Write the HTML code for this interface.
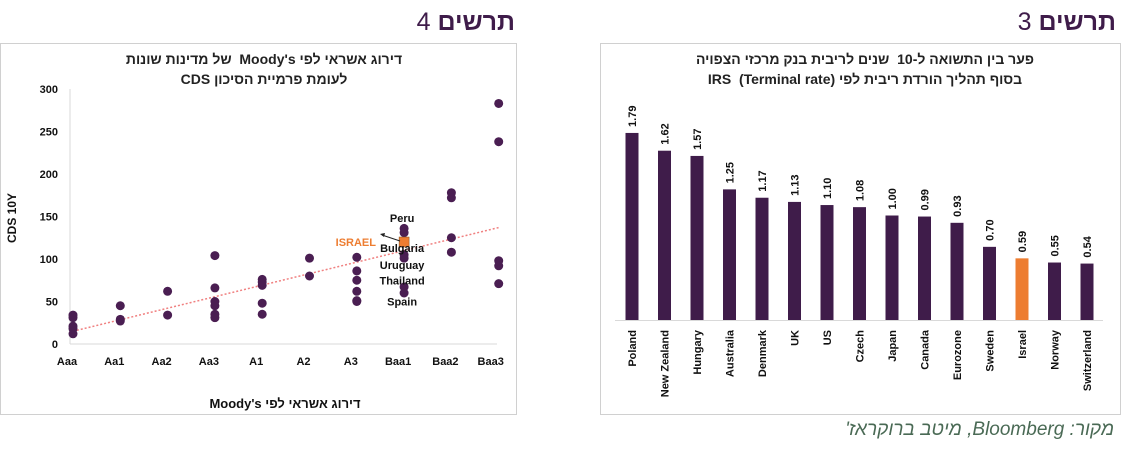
<!DOCTYPE html>
<html><head><meta charset="utf-8"><style>
body{margin:0;background:#fff;width:1132px;height:462px;overflow:hidden;font-family:"Liberation Sans","Noto Sans CJK SC",sans-serif;position:relative}
svg text{font-family:"Liberation Sans","Noto Sans CJK SC",sans-serif}
.t{position:absolute;direction:rtl;white-space:nowrap;font-family:"Liberation Sans","Noto Sans CJK SC",sans-serif}
</style></head><body>
<svg id="s" width="1132" height="462" xmlns="http://www.w3.org/2000/svg" style="position:absolute;left:0;top:0">
<rect x="0.5" y="43.5" width="516" height="371" fill="#fff" stroke="#d0d0d0"/>
<rect x="600.5" y="43.5" width="520" height="371" fill="#fff" stroke="#d0d0d0"/>
<text x="16" y="218" transform="rotate(-90 16 218)" text-anchor="middle" font-size="12" font-weight="bold" fill="#111">CDS 10Y</text>
<g id="sc"></g><g id="bc"></g>
</svg>
<div class="t" style="right:617px;top:8px;font-size:25px;font-weight:bold;color:#3f1c4a">תרשים <span style="font-weight:normal">4</span></div>
<div class="t" style="right:16px;top:8px;font-size:25px;font-weight:bold;color:#3f1c4a">תרשים <span style="font-weight:normal">3</span></div>
<div class="t" style="left:0;width:528px;top:49px;text-align:center;font-size:14px;font-weight:bold;color:#222;line-height:20px">דירוג אשראי לפי Moody's&nbsp;&nbsp;של מדינות שונות<br>לעומת פרמיית הסיכון CDS</div>
<div class="t" style="left:600px;width:530px;top:49px;text-align:center;font-size:14px;font-weight:bold;color:#222;line-height:20px">פער בין התשואה ל-10&nbsp;&nbsp;שנים לריבית בנק מרכזי הצפויה<br>בסוף תהליך הורדת ריבית לפי IRS&nbsp;&nbsp;(Terminal rate)</div>
<div class="t" style="left:0;width:570px;top:396px;text-align:center;font-size:13px;font-weight:bold;color:#111">דירוג אשראי לפי Moody's</div>
<div class="t" style="right:18px;top:419px;font-size:19px;font-style:italic;color:#4a6a55">מקור: Bloomberg, מיטב ברוקראז'</div>
<script>
var NS="http://www.w3.org/2000/svg";
function mk(p,t,a){var e=document.createElementNS(NS,t);for(var k in a)e.setAttribute(k,a[k]);p.appendChild(e);return e;}
var ratings=["Aaa","Aa1","Aa2","Aa3","A1","A2","A3","Baa1","Baa2","Baa3"];
var cdsValues=[[34,31,21,18,12],[45,29,27],[62,34],[104,66,50,45,35,31],[76,73,69,48,35],[101,80],[102,86,75,62,51,50],[136,131,105,101,67,60],[178,172,125,108],[283,238,98,92,71]];
var israelRating=7, israelCds=120;
var yTicks=[0,50,100,150,200,250,300];
var trendStart=15, trendEnd=137;
var countryLabels=["Peru","Bulgaria","Uruguay","Thailand","Spain"];
var countryLabelValues=[148,113,93,75,50];
function sx(i){return 73+i*47.3;}
function sy(v){return 344-v*0.85;}
var sc=document.getElementById('sc');
mk(sc,'line',{x1:70,y1:89,x2:70,y2:344,stroke:'#d9d9d9'});
mk(sc,'line',{x1:70,y1:344,x2:497,y2:344,stroke:'#d9d9d9'});
yTicks.forEach(function(t){var e=mk(sc,'text',{x:58,y:sy(t)+4,'text-anchor':'end','font-size':11,'font-weight':'bold',fill:'#111'});e.textContent=t;

});
ratings.forEach(function(r,i){var e=mk(sc,'text',{x:sx(i)-6+(i==9?-2:0),y:365,'text-anchor':'middle','font-size':11,'font-weight':'bold',fill:'#111'});e.textContent=r;

});
var tl=mk(sc,'line',{x1:sx(0),y1:sy(trendStart),x2:sx(9),y2:sy(trendEnd),stroke:'#f08080','stroke-width':1.5,'stroke-dasharray':'2,2'});


cdsValues.forEach(function(arr,i){arr.forEach(function(v){var c=mk(sc,'circle',{cx:sx(i),cy:sy(v),r:4.5,fill:'#4a1e52'});

});});
var sq=mk(sc,'rect',{x:sx(israelRating)-5,y:sy(israelCds)-5,width:10,height:10,fill:'#ed7d31',stroke:'#7a4a20','stroke-width':0.5});


var il=mk(sc,'text',{x:376,y:sy(israelCds)+4,'text-anchor':'end','font-size':11,'font-weight':'bold',fill:'#ed7d31'});il.textContent='ISRAEL';


mk(sc,'line',{x1:400,y1:sy(israelCds)-1,x2:382,y2:sy(israelCds)-7,stroke:'#222','stroke-width':1});
mk(sc,'path',{d:'M380,'+(sy(israelCds)-8)+' l5,-1 l-1,4 z',fill:'#222'});
countryLabels.forEach(function(n,i){var e=mk(sc,'text',{x:sx(israelRating)-2,y:sy(countryLabelValues[i])+4,'text-anchor':'middle','font-size':11,'font-weight':'bold',fill:'#111'});e.textContent=n;

});
var countries=["Poland","New Zealand","Hungary","Australia","Denmark","UK","US","Czech","Japan","Canada","Eurozone","Sweden","Israel","Norway","Switzerland"];
var gaps=[1.79,1.62,1.57,1.25,1.17,1.13,1.10,1.08,1.00,0.99,0.93,0.70,0.59,0.55,0.54];
var highlight="Israel";
function bx(i){return 632+i*32.5;}
function by(v){return 320-v*104.5;}
var bc=document.getElementById('bc');
mk(bc,'line',{x1:615,y1:320.5,x2:1103,y2:320.5,stroke:'#d9d9d9'});
countries.forEach(function(c,i){
 var v=gaps[i];
 var r=mk(bc,'rect',{x:bx(i)-6.5,y:by(v),width:13,height:320-by(v),fill:c==highlight?'#ed7d31':'#3f1c4a'});
 
 
 var t=mk(bc,'text',{x:0,y:0,transform:'translate('+(bx(i)+4)+','+(by(v)-6)+') rotate(-90)','font-size':11,'font-weight':'bold',fill:'#111'});
 t.textContent=v.toFixed(2);
 
 
 var l=mk(bc,'text',{x:0,y:0,transform:'translate('+(bx(i)+4)+',330) rotate(-90)','text-anchor':'end','font-size':11,'font-weight':'bold',fill:'#111'});
 l.textContent=c;
 
 
});
</script>
</body></html>
